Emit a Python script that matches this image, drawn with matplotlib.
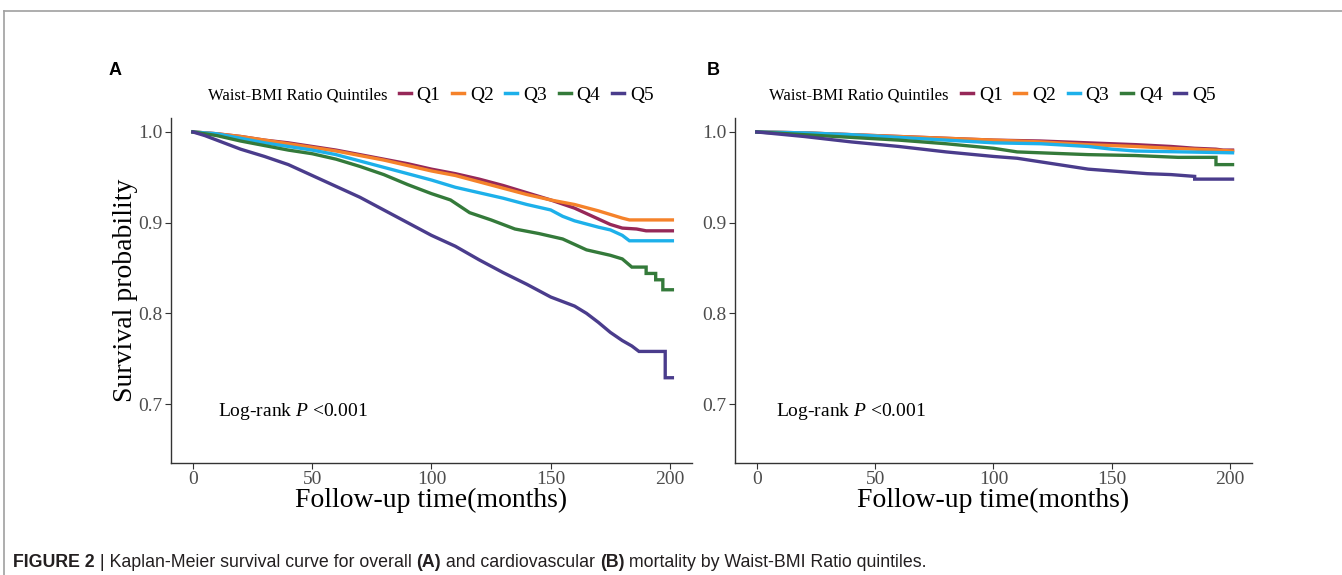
import numpy as np
import matplotlib
matplotlib.use("Agg")
from matplotlib import pyplot as plt
from matplotlib.lines import Line2D

plt.rcParams['mathtext.fontset'] = 'custom'
plt.rcParams['mathtext.rm'] = 'Liberation Serif'
plt.rcParams['mathtext.it'] = 'Liberation Serif:italic'

# ---- data (Kaplan-Meier curves) ----
groups = ['Q1', 'Q2', 'Q3', 'Q4', 'Q5']
colors = ['#962858', '#F5822A', '#1DB0EA', '#347A3A', '#4A3C8C']

# panel A: overall mortality
a_q1_t = [0, 10, 20, 30, 40, 50, 60, 70, 80, 90, 100, 110, 120, 130, 140, 150, 160, 165, 170, 175, 180, 186, 190, 201]
a_q1_s = [1.0, 0.998, 0.995, 0.991, 0.988, 0.984, 0.980, 0.975, 0.970, 0.965, 0.959, 0.954, 0.948, 0.941, 0.933, 0.925, 0.916, 0.910, 0.904, 0.898, 0.894, 0.893, 0.891, 0.891]
a_q2_t = [0, 10, 20, 30, 40, 50, 60, 70, 80, 90, 100, 110, 120, 130, 140, 150, 160, 170, 175, 180, 183, 201]
a_q2_s = [1.0, 0.998, 0.995, 0.991, 0.987, 0.983, 0.979, 0.974, 0.969, 0.963, 0.957, 0.952, 0.945, 0.938, 0.931, 0.925, 0.920, 0.913, 0.909, 0.905, 0.903, 0.903]
a_q3_t = [0, 10, 20, 30, 40, 50, 60, 70, 80, 90, 100, 110, 120, 130, 140, 150, 155, 160, 170, 175, 180, 183, 201]
a_q3_s = [1.0, 0.998, 0.993, 0.988, 0.984, 0.980, 0.975, 0.968, 0.961, 0.954, 0.947, 0.939, 0.933, 0.927, 0.920, 0.914, 0.907, 0.902, 0.895, 0.892, 0.886, 0.880, 0.880]
a_q4_t = [0, 10, 20, 30, 40, 50, 60, 70, 80, 90, 100, 108, 112, 116, 125, 135, 145, 155, 160, 165, 175, 180, 184, 190, 190, 194, 194, 197, 197, 201]
a_q4_s = [1.0, 0.996, 0.990, 0.985, 0.980, 0.976, 0.970, 0.962, 0.953, 0.942, 0.932, 0.925, 0.918, 0.911, 0.903, 0.893, 0.888, 0.882, 0.876, 0.870, 0.864, 0.860, 0.851, 0.851, 0.844, 0.844, 0.837, 0.837, 0.826, 0.826]
a_q5_t = [0, 5, 10, 15, 20, 30, 40, 50, 60, 70, 80, 90, 100, 110, 120, 130, 140, 150, 160, 165, 170, 175, 180, 184, 187, 198, 198, 201]
a_q5_s = [1.0, 0.996, 0.991, 0.986, 0.981, 0.973, 0.964, 0.952, 0.940, 0.928, 0.914, 0.900, 0.886, 0.874, 0.859, 0.845, 0.832, 0.818, 0.808, 0.800, 0.790, 0.779, 0.770, 0.764, 0.758, 0.758, 0.729, 0.729]

# panel B: cardiovascular mortality
b_q1_t = [0, 20, 40, 60, 80, 100, 120, 140, 160, 175, 185, 194, 197, 201]
b_q1_s = [1.0, 0.999, 0.997, 0.995, 0.993, 0.991, 0.990, 0.988, 0.986, 0.984, 0.982, 0.981, 0.980, 0.980]
b_q2_t = [0, 20, 40, 60, 80, 100, 120, 140, 160, 175, 185, 194, 201]
b_q2_s = [1.0, 0.999, 0.997, 0.995, 0.993, 0.991, 0.989, 0.986, 0.984, 0.982, 0.981, 0.980, 0.979]
b_q3_t = [0, 20, 40, 60, 80, 100, 120, 140, 150, 160, 180, 201]
b_q3_s = [1.0, 0.999, 0.997, 0.994, 0.991, 0.988, 0.987, 0.984, 0.981, 0.979, 0.978, 0.977]
b_q4_t = [0, 20, 40, 60, 80, 100, 110, 120, 140, 160, 178, 194, 194, 201]
b_q4_s = [1.0, 0.997, 0.994, 0.991, 0.987, 0.982, 0.978, 0.977, 0.975, 0.974, 0.972, 0.972, 0.964, 0.964]
b_q5_t = [0, 20, 40, 60, 80, 100, 110, 120, 130, 140, 150, 165, 175, 185, 185, 201]
b_q5_s = [1.0, 0.995, 0.989, 0.984, 0.978, 0.973, 0.971, 0.967, 0.963, 0.959, 0.957, 0.954, 0.953, 0.951, 0.948, 0.948]

panel_a = [(a_q1_t, a_q1_s), (a_q2_t, a_q2_s), (a_q3_t, a_q3_s), (a_q4_t, a_q4_s), (a_q5_t, a_q5_s)]
panel_b = [(b_q1_t, b_q1_s), (b_q2_t, b_q2_s), (b_q3_t, b_q3_s), (b_q4_t, b_q4_s), (b_q5_t, b_q5_s)]

xticks = [0, 50, 100, 150, 200]
yticks = [0.7, 0.8, 0.9, 1.0]

serif = ['Liberation Serif', 'DejaVu Serif']
sans = ['Liberation Sans', 'DejaVu Sans']
narrow = ['Liberation Sans Narrow', 'Liberation Sans', 'DejaVu Sans']

fig = plt.figure(figsize=(13.42, 5.75), dpi=100)

# thin grey frame at top / left
fig.add_artist(Line2D([0.003, 1.0], [0.981, 0.981], color='#A0A0A0', lw=1.2, transform=fig.transFigure))
fig.add_artist(Line2D([0.003, 0.003], [0.0, 0.981], color='#A0A0A0', lw=1.2, transform=fig.transFigure))

def draw_panel(ax, data, letter, letter_x, show_ylabel, lr_x):
    for (t, s), c in zip(data, colors):
        ax.plot(t, s, color=c, lw=2.4, solid_joinstyle='miter')
    ax.set_xlim(-9.2, 209.2)
    ax.set_ylim(0.635, 1.0154)
    ax.set_xticks(xticks)
    ax.set_yticks(yticks)
    ax.set_yticklabels(['%.1f' % v for v in yticks])
    for sp in ['top', 'right']:
        ax.spines[sp].set_visible(False)
    for sp in ['left', 'bottom']:
        ax.spines[sp].set_color('#333333')
        ax.spines[sp].set_linewidth(1.0)
    ax.tick_params(length=4, width=0.8, color='#333333', labelcolor='#4D4D4D', labelsize=14, pad=2)
    for lab in ax.get_xticklabels() + ax.get_yticklabels():
        lab.set_family(serif)
    ax.set_xlabel('Follow-up time(months)', fontsize=20, family=serif, labelpad=0)
    if show_ylabel:
        ax.set_ylabel('Survival probability', fontsize=20, family=serif, labelpad=0)
    ax.text(lr_x, 0.148, r'Log-rank $P$ <0.001', transform=ax.transAxes, fontsize=14, family=serif,
            va='center', ha='left')
    fig.text(letter_x, 0.878, letter, fontsize=13, fontweight='bold', family=sans, va='center', ha='left')

ax_a = fig.add_axes([0.1274, 0.1948, 0.3882, 0.600])
ax_b = fig.add_axes([0.5477, 0.1948, 0.3852, 0.600])
draw_panel(ax_a, panel_a, 'A', 0.081, True, 0.09)
draw_panel(ax_b, panel_b, 'B', 0.527, False, 0.079)

# legends: title text + five keys
handles = [Line2D([], [], color=c, lw=2.5) for c in colors]
for title_x, leg_x in [(0.155, 0.297), (0.573, 0.716)]:
    fig.text(title_x, 0.834, 'Waist-BMI Ratio Quintiles', fontsize=12, family=serif, va='center', ha='left')
    fig.legend(handles, groups, ncol=5, loc='center left', bbox_to_anchor=(leg_x, 0.834),
               frameon=False, handlelength=0.62, handletextpad=0.3, columnspacing=0.6,
               prop={'family': serif, 'size': 14}, borderaxespad=0, borderpad=0)

# caption with bold parts
pieces = [('FIGURE 2', 'bold'), (' | Kaplan-Meier survival curve for overall ', 'normal'), ('(A)', 'bold'),
          (' and cardiovascular ', 'normal'), ('(B)', 'bold'),
          (' mortality by Waist-BMI Ratio quintiles.', 'normal')]
fig.canvas.draw()
renderer = fig.canvas.get_renderer()
x = 13
for txt, w in pieces:
    t = fig.text(x / 1342, 1 - 567 / 575, txt, fontsize=12.8, fontweight=w, family=narrow, va='baseline',
                 ha='left', color='#231F20')
    x = t.get_window_extent(renderer).x1

fig.savefig('out.png', dpi=100)
